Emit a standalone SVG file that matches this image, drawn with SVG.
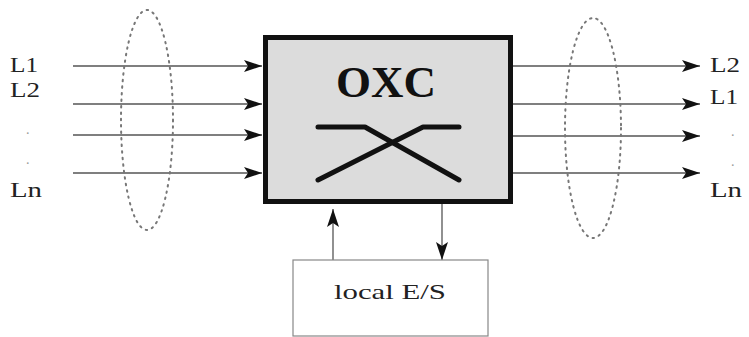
<svg xmlns="http://www.w3.org/2000/svg" width="749" height="337" viewBox="0 0 749 337">
<style>
text{font-family:"Liberation Serif","Times New Roman",Tinos,Times,serif;fill:#222}
.ln{stroke:#555;stroke-width:1.3;fill:none}
.el{fill:none;stroke:#777;stroke-width:2;stroke-dasharray:1.5 5;stroke-linecap:round}
.sw{fill:none;stroke:#111;stroke-width:5;stroke-linecap:round;stroke-linejoin:round}
</style>
<defs>
<marker id="ah" markerWidth="18" markerHeight="12" refX="18" refY="6" orient="auto" markerUnits="userSpaceOnUse">
<path d="M0,0 L18,6 L0,12 L4,6 Z" fill="#111"/>
</marker>
</defs>
<rect width="749" height="337" fill="#fff"/>
<g id="connectors">
<line class="ln" x1="73" y1="66" x2="262" y2="66" marker-end="url(#ah)"/>
<line class="ln" x1="73" y1="104" x2="262" y2="104" marker-end="url(#ah)"/>
<line class="ln" x1="73" y1="135" x2="262" y2="135" marker-end="url(#ah)"/>
<line class="ln" x1="73" y1="173" x2="262" y2="173" marker-end="url(#ah)"/>
<line class="ln" x1="512" y1="66" x2="700" y2="66" marker-end="url(#ah)"/>
<line class="ln" x1="512" y1="104" x2="700" y2="104" marker-end="url(#ah)"/>
<line class="ln" x1="512" y1="136" x2="700" y2="136" marker-end="url(#ah)"/>
<line class="ln" x1="512" y1="173" x2="700" y2="173" marker-end="url(#ah)"/>
<line class="ln" x1="333" y1="260" x2="333" y2="209" marker-end="url(#ah)"/>
<line class="ln" x1="442" y1="204" x2="442" y2="260" marker-end="url(#ah)"/>
</g>
<g id="bundle-in"><ellipse class="el" cx="147" cy="120" rx="26" ry="110"/></g>
<g id="bundle-out"><ellipse class="el" cx="593" cy="128" rx="28" ry="110"/></g>
<g id="labels-in">
<text font-family="Liberation Serif, serif" x="10" y="72" font-size="21" textLength="28" lengthAdjust="spacingAndGlyphs">L1</text>
<text font-family="Liberation Serif, serif" x="10" y="97" font-size="21" textLength="30" lengthAdjust="spacingAndGlyphs">L2</text>
<text x="26" y="134" font-size="14" style="fill:#999">.</text>
<text x="26" y="164" font-size="14" style="fill:#999">.</text>
<text font-family="Liberation Serif, serif" x="10" y="197" font-size="21" textLength="32" lengthAdjust="spacingAndGlyphs">Ln</text>
</g>
<g id="labels-out">
<text x="710" y="72" font-size="21" textLength="30" lengthAdjust="spacingAndGlyphs">L2</text>
<text x="710" y="104" font-size="21" textLength="28" lengthAdjust="spacingAndGlyphs">L1</text>
<text x="731" y="136" font-size="14" style="fill:#999">.</text>
<text x="731" y="166" font-size="14" style="fill:#999">.</text>
<text x="710" y="197" font-size="21" textLength="32" lengthAdjust="spacingAndGlyphs">Ln</text>
</g>
<g id="oxc">
<rect x="265.5" y="37.5" width="245" height="164" fill="#dcdcdc" stroke="#111" stroke-width="5"/>
<text x="386" y="97" font-size="45" font-weight="bold" text-anchor="middle" style="fill:#111">OXC</text>
<path class="sw" d="M318,127 L365,127 L459,180"/>
<path class="sw" d="M318,180 L423,127 L459,127"/>
</g>
<g id="local-es">
<rect x="293" y="260" width="195" height="76" fill="#fff" stroke="#888" stroke-width="1.2"/>
<text x="390" y="299" font-size="22" text-anchor="middle" textLength="112" lengthAdjust="spacingAndGlyphs">local E/S</text>
</g>
</svg>
